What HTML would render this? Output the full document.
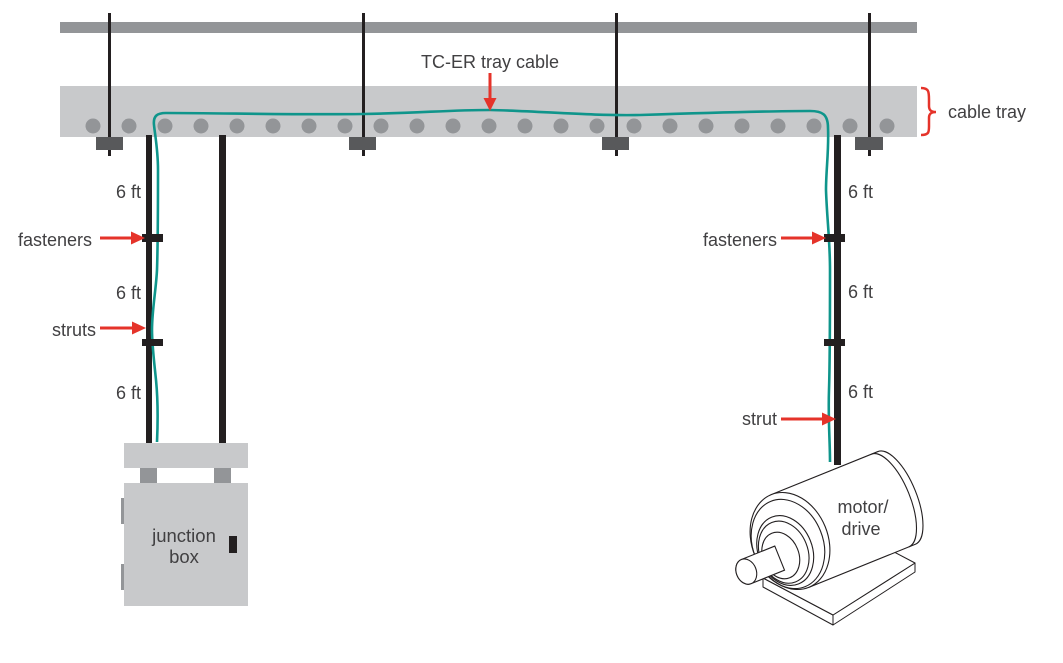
<!DOCTYPE html>
<html>
<head>
<meta charset="utf-8">
<style>
  html, body { margin:0; padding:0; background:#fff; }
  svg { display:block; }
  text { font-family: "Liberation Sans", "DejaVu Sans", sans-serif; fill:#414042; }
</style>
</head>
<body>
<svg width="1063" height="663" viewBox="0 0 1063 663" xmlns="http://www.w3.org/2000/svg">
  <rect x="0" y="0" width="1063" height="663" fill="#ffffff"/>

  <!-- top ceiling bar -->
  <rect x="60" y="22" width="857" height="11" fill="#939598"/>

  <!-- cable tray -->
  <rect x="60" y="86" width="857" height="51" fill="#c8c9cb"/>

  <!-- tray rungs (dots) -->
  <g fill="#939598">
    <circle cx="93" cy="126" r="7.5"/>
    <circle cx="129" cy="126" r="7.5"/>
    <circle cx="165" cy="126" r="7.5"/>
    <circle cx="201" cy="126" r="7.5"/>
    <circle cx="237" cy="126" r="7.5"/>
    <circle cx="273" cy="126" r="7.5"/>
    <circle cx="309" cy="126" r="7.5"/>
    <circle cx="345" cy="126" r="7.5"/>
    <circle cx="381" cy="126" r="7.5"/>
    <circle cx="417" cy="126" r="7.5"/>
    <circle cx="453" cy="126" r="7.5"/>
    <circle cx="489" cy="126" r="7.5"/>
    <circle cx="525" cy="126" r="7.5"/>
    <circle cx="561" cy="126" r="7.5"/>
    <circle cx="597" cy="126" r="7.5"/>
    <circle cx="634" cy="126" r="7.5"/>
    <circle cx="670" cy="126" r="7.5"/>
    <circle cx="706" cy="126" r="7.5"/>
    <circle cx="742" cy="126" r="7.5"/>
    <circle cx="778" cy="126" r="7.5"/>
    <circle cx="814" cy="126" r="7.5"/>
    <circle cx="850" cy="126" r="7.5"/>
    <circle cx="887" cy="126" r="7.5"/>
  </g>

  <!-- hanger rods -->
  <g fill="#231f20">
    <rect x="108" y="13" width="3" height="143"/>
    <rect x="362" y="13" width="3" height="143"/>
    <rect x="615" y="13" width="3" height="143"/>
    <rect x="868" y="13" width="3" height="143"/>
  </g>
  <!-- rod clamps -->
  <g fill="#58595b">
    <rect x="96" y="137" width="27" height="13"/>
    <rect x="349" y="137" width="27" height="13"/>
    <rect x="602" y="137" width="27" height="13"/>
    <rect x="855" y="137" width="28" height="13"/>
  </g>

  <!-- struts -->
  <g fill="#231f20">
    <rect x="146" y="135" width="6" height="308"/>
    <rect x="219" y="135" width="7" height="308"/>
    <rect x="834" y="135" width="7" height="330"/>
  </g>

  <!-- junction box -->
  <rect x="124" y="443" width="124" height="25" fill="#c8c9cb"/>
  <rect x="140" y="468" width="17" height="15" fill="#939598"/>
  <rect x="214" y="468" width="17" height="15" fill="#939598"/>
  <rect x="124" y="483" width="124" height="123" fill="#c8c9cb"/>
  <rect x="121" y="498" width="3" height="26" fill="#939598"/>
  <rect x="121" y="564" width="3" height="26" fill="#939598"/>
  <rect x="229" y="536" width="8" height="17" fill="#231f20"/>
  <text x="184" y="542" font-size="18.5" text-anchor="middle">junction</text>
  <text x="184" y="563" font-size="18.5" text-anchor="middle">box</text>

  <!-- TC-ER cable -->
  <path d="M 157 442 C 158 420, 158 400, 156 380 C 154 360, 152 345, 152 330 C 152 310, 156 290, 157 270 C 158 240, 158 200, 158 170 C 158 150, 155 135, 154 125 C 153 116, 157 113, 166 113 C 220 113, 300 115, 363 114 C 420 113, 450 110, 490 110 C 540 111, 590 116, 640 115 C 700 113, 760 111, 810 111 C 822 111, 828 114, 828 128 C 829 150, 826 170, 826 190 C 827 220, 830 240, 830 270 C 830 320, 830 360, 829 390 C 828 420, 830 440, 830 462"
        fill="none" stroke="#0f958b" stroke-width="2.6"/>

  <!-- fasteners -->
  <g fill="#231f20">
    <rect x="142" y="234" width="21" height="8"/>
    <rect x="142" y="339" width="21" height="7"/>
    <rect x="824" y="234" width="21" height="8"/>
    <rect x="824" y="339" width="21" height="7"/>
  </g>

  <!-- motor base -->
  <g stroke="#231f20" stroke-width="1" fill="#ffffff" stroke-linejoin="round">
    <polygon points="763,578 833,615 833,625 763,587"/>
    <polygon points="833,615 915,563 915,572 833,625"/>
    <polygon points="763,578 833,615 915,563 845,526"/>
  </g>

  <!-- motor -->
  <g transform="translate(790,541) rotate(-22)" stroke="#231f20" stroke-width="1.1" fill="#ffffff">
    <path d="M 0 -50 L 115 -50 A 20 50 0 0 1 115 50 L 0 50 Z"/>
    <path d="M 108 -50 A 20 50 0 0 1 108 50" fill="none"/>
    <ellipse cx="0" cy="0" rx="38" ry="50"/>
    <ellipse cx="-3" cy="2" rx="35" ry="46" fill="none"/>
    <ellipse cx="-8" cy="7" rx="27" ry="36"/>
    <ellipse cx="-10" cy="8" rx="24" ry="32" fill="none"/>
    <ellipse cx="-14" cy="10" rx="18" ry="24"/>
    <path d="M -16 -1 L -52 -1 A 10 13 0 0 0 -52 25 L -16 25 Z"/>
    <ellipse cx="-52" cy="12" rx="10" ry="13"/>
  </g>
  <text x="863" y="513" font-size="18" text-anchor="middle">motor/</text>
  <text x="861" y="535" font-size="18" text-anchor="middle">drive</text>

  <!-- labels -->
  <g font-size="18">
    <text x="141" y="198" text-anchor="end">6 ft</text>
    <text x="141" y="299" text-anchor="end">6 ft</text>
    <text x="141" y="399" text-anchor="end">6 ft</text>
    <text x="848" y="198">6 ft</text>
    <text x="848" y="298">6 ft</text>
    <text x="848" y="398">6 ft</text>
    <text x="18" y="246">fasteners</text>
    <text x="96" y="336" text-anchor="end">struts</text>
    <text x="777" y="246" text-anchor="end">fasteners</text>
    <text x="777" y="425" text-anchor="end">strut</text>
    <text x="421" y="68">TC-ER tray cable</text>
    <text x="948" y="118">cable tray</text>
  </g>

  <!-- red arrows -->
  <g fill="#e5332a" stroke="none">
    <rect x="100" y="236.5" width="34" height="3"/>
    <polygon points="131,231.5 145,238 131,244.5"/>
    <rect x="100" y="326.5" width="35" height="3"/>
    <polygon points="132,321.5 146,328 132,334.5"/>
    <rect x="781" y="236.5" width="34" height="3"/>
    <polygon points="812,231.5 826,238 812,244.5"/>
    <rect x="781" y="417.5" width="44" height="3"/>
    <polygon points="822,412.5 836,419 822,425.5"/>
    <rect x="488.5" y="73" width="3" height="28"/>
    <polygon points="483.5,98 490,111 496.5,98"/>
  </g>
  <path d="M 921 88 C 929 88, 929 92, 929 100 L 929 106 C 929 110, 931 112, 936 112 C 931 112, 929 114, 929 118 L 929 126 C 929 132, 929 135, 921 135"
        fill="none" stroke="#e5332a" stroke-width="2.5"/>
</svg>
</body>
</html>
